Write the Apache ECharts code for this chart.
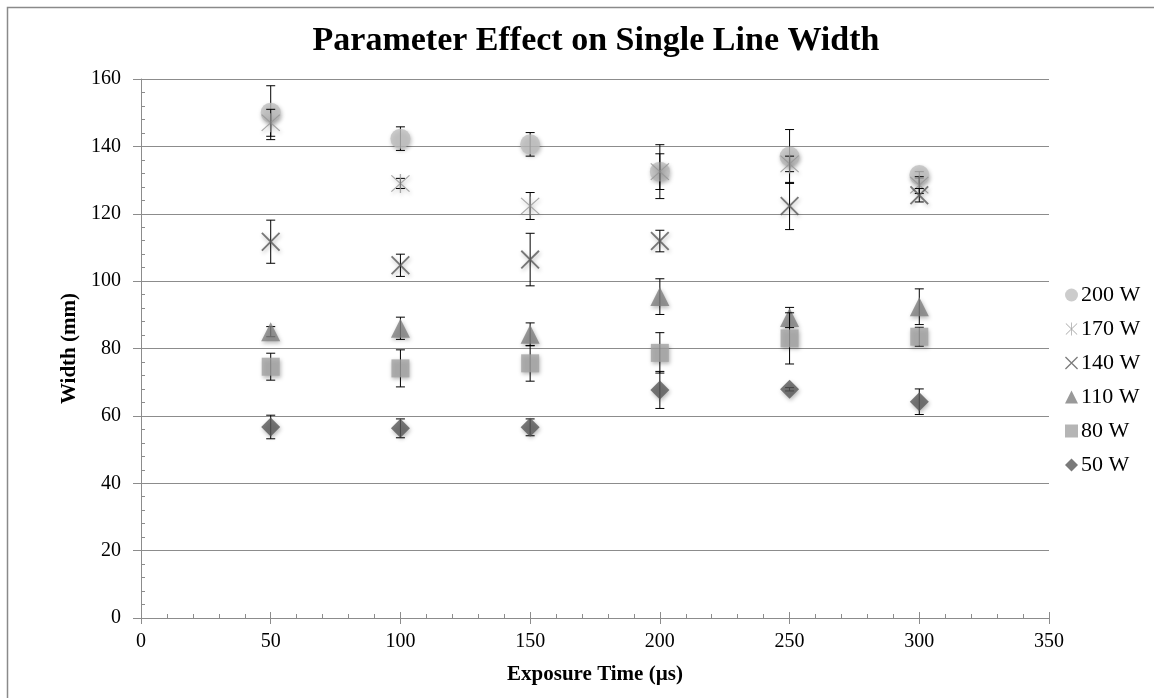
<!DOCTYPE html>
<html>
<head>
<meta charset="utf-8">
<script src="https://cdn.jsdelivr.net/npm/echarts@6/dist/echarts.min.js"></script>
<style>
  html, body { margin: 0; padding: 0; background: #fff; }
  #main { width: 1154px; height: 698px; }
</style>
</head>
<body>
<div id="main"></div>
<script>
// exposure times (µs)
const times = [50, 100, 150, 200, 250, 300];

// mean widths (mm) for each power
const w200 = [150, 142.3, 140.6, 132.5, 137, 131.5];
const w170 = [147, 129, 122.3, 132.5, 134.8, 128.5];
const w140 = [111.7, 104.7, 106.4, 111.9, 122.3, 125.5];
const w110 = [85, 86, 84.2, 95.4, 89.2, 92.4];
const w80 = [74.6, 74.1, 75.6, 78.7, 83, 83.5];
const w50 = [56.7, 56.3, 56.6, 67.7, 67.9, 64.2];

// error bar half-lengths
const e200 = [8, 3.5, 3.5, 8, 8, 1];
const e170 = [4, 1.5, 4, 5.3, 2.3, 2.5];
const e140 = [6.4, 3.3, 7.8, 3.2, 7, 2];
const e110 = [1.5, 3.3, 3.4, 5.3, 3, 5.3];
const e80 = [4, 5.5, 5.3, 6, 7.6, 2.8];
const e50 = [3.5, 2.8, 2.5, 5.5, 0.5, 3.8];

const serif = "'Liberation Serif', 'Times New Roman', serif";

const starPath = 'path://M9.4,0 L10.6,0 L10.6,20 L9.4,20 Z M1,1.8 L1.8,1 L19,18.2 L18.2,19 Z M18.2,1 L19,1.8 L1.8,19 L1,18.2 Z';
const crossPath = 'path://M0,1.4 L1.4,0 L20,18.6 L18.6,20 Z M18.6,0 L20,1.4 L1.4,20 L0,18.6 Z';

const groups = [
  { name: '200 W', vals: w200, errs: e200, symbol: 'circle', size: 20, color: '#bfbfbf' },
  { name: '170 W', vals: w170, errs: e170, symbol: starPath, size: 19, color: '#959595' },
  { name: '140 W', vals: w140, errs: e140, symbol: crossPath, size: 19, color: '#595959' },
  { name: '110 W', vals: w110, errs: e110, symbol: 'triangle', size: 19, color: '#7f7f7f' },
  { name: '80 W', vals: w80, errs: e80, symbol: 'rect', size: 18, color: '#a3a3a3' },
  { name: '50 W', vals: w50, errs: e50, symbol: 'diamond', size: 19, color: '#595959' }
];

function errorBarItem(params, api) {
  const x = api.value(0);
  const lo = api.coord([x, api.value(1)]);
  const hi = api.coord([x, api.value(2)]);
  const cap = 4.5;
  const st = { stroke: '#000', lineWidth: 1 };
  return {
    type: 'group',
    children: [
      { type: 'line', shape: { x1: lo[0], y1: lo[1], x2: hi[0], y2: hi[1] }, style: st },
      { type: 'line', shape: { x1: lo[0] - cap, y1: lo[1], x2: lo[0] + cap, y2: lo[1] }, style: st },
      { type: 'line', shape: { x1: hi[0] - cap, y1: hi[1], x2: hi[0] + cap, y2: hi[1] }, style: st }
    ]
  };
}

const series = [];
groups.forEach((g, i) => {
  series.push({
    name: g.name + ' err',
    type: 'custom',
    renderItem: errorBarItem,
    data: times.map((t, j) => [t, g.vals[j] - g.errs[j], g.vals[j] + g.errs[j]]),
    z: 2 + i * 2,
    silent: true
  });
  series.push({
    name: g.name,
    type: 'scatter',
    symbol: g.symbol,
    symbolSize: g.size,
    data: times.map((t, j) => [t, g.vals[j]]),
    itemStyle: {
      color: g.color,
      shadowBlur: 4,
      shadowOffsetX: 1,
      shadowOffsetY: 2,
      shadowColor: 'rgba(0,0,0,0.35)'
    },
    z: 3 + i * 2
  });
});

const chart = echarts.init(document.getElementById('main'));

chart.setOption({
  animation: false,
  backgroundColor: '#fff',
  textStyle: { fontFamily: serif },
  graphic: [
    {
      type: 'rect',
      shape: { x: 7.5, y: 7.5, width: 1200, height: 720 },
      style: { fill: 'none', stroke: '#8a8a8a', lineWidth: 1.5 },
      z: -10
    },
    {
      type: 'text',
      x: 596,
      y: 41,
      style: {
        text: 'Parameter Effect on Single Line Width',
        font: 'bold 34px ' + serif,
        fill: '#000',
        textAlign: 'center',
        textVerticalAlign: 'middle'
      }
    }
  ],
  grid: { left: 141, right: 105, top: 79, bottom: 80 },
  legend: {
    orient: 'vertical',
    left: 1060,
    top: 279,
    itemWidth: 13,
    itemHeight: 13,
    itemGap: 12,
    data: groups.map(g => g.name),
    itemStyle: { shadowBlur: 0, shadowOffsetX: 0, shadowOffsetY: 0, shadowColor: 'transparent' },
    textStyle: { fontFamily: serif, fontSize: 22, lineHeight: 22, color: '#000', padding: [0, 0, 0, -2] }
  },
  xAxis: [
    {
      type: 'value',
      min: 0,
      max: 350,
      interval: 50,
      name: 'Exposure Time (µs)',
      nameLocation: 'middle',
      nameGap: 46,
      nameTextStyle: { fontFamily: serif, fontSize: 21, fontWeight: 'bold', color: '#000' },
      axisLine: { show: true, onZero: false, lineStyle: { color: '#8c8c8c', width: 1 } },
      axisTick: { show: true, length: 6, lineStyle: { color: '#8c8c8c' } },
      axisLabel: { fontFamily: serif, fontSize: 20, color: '#000', margin: 14 },
      splitLine: { show: false }
    },
    {
      type: 'value',
      position: 'bottom',
      min: 0,
      max: 350,
      interval: 50,
      axisLine: { show: false },
      axisTick: { show: true, inside: true, length: 6, lineStyle: { color: '#8c8c8c' } },
      minorTick: { show: true, splitNumber: 5, length: 4, lineStyle: { color: '#8c8c8c' } },
      axisLabel: { show: false },
      splitLine: { show: false }
    }
  ],
  yAxis: [
    {
      type: 'value',
      min: 0,
      max: 160,
      interval: 20,
      name: 'Width (mm)',
      nameLocation: 'middle',
      nameGap: 60,
      nameRotate: 90,
      nameTextStyle: { fontFamily: serif, fontSize: 21, fontWeight: 'bold', color: '#000' },
      axisLine: { show: true, lineStyle: { color: '#8c8c8c', width: 1 } },
      axisTick: { show: true, length: 8, lineStyle: { color: '#8c8c8c' } },
      axisLabel: { fontFamily: serif, fontSize: 20, color: '#000', margin: 20 },
      splitLine: { show: true, lineStyle: { color: '#8c8c8c', width: 1 } }
    },
    {
      type: 'value',
      position: 'left',
      min: 0,
      max: 160,
      interval: 20,
      axisLine: { show: false },
      axisTick: { show: false, inside: true },
      minorTick: { show: true, splitNumber: 5, length: 4, lineStyle: { color: '#8c8c8c' } },
      axisLabel: { show: false },
      splitLine: { show: false }
    }
  ],
  series: series
});
</script>
</body>
</html>
